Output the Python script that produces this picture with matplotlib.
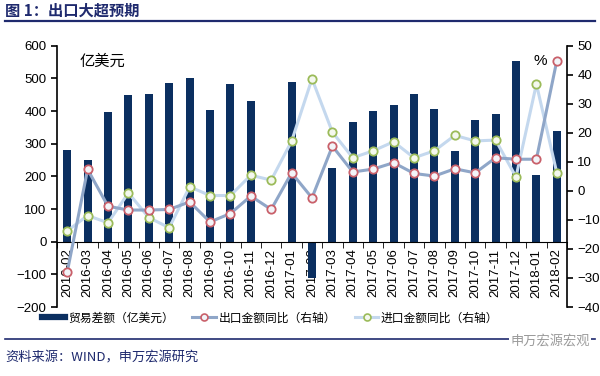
import numpy as np
import matplotlib
matplotlib.use("Agg")
import matplotlib.pyplot as plt
from matplotlib.lines import Line2D
from matplotlib.ticker import FixedLocator

plt.rcParams["font.family"] = ["Liberation Sans", "Noto Sans CJK SC", "DejaVu Sans"]

# -------------------------------------------------
# data
# -------------------------------------------------
months = [
    "2016-02", "2016-03", "2016-04", "2016-05", "2016-06", "2016-07",
    "2016-08", "2016-09", "2016-10", "2016-11", "2016-12", "2017-01",
    "2017-02", "2017-03", "2017-04", "2017-05", "2017-06", "2017-07",
    "2017-08", "2017-09", "2017-10", "2017-11", "2017-12", "2018-01",
    "2018-02",
]
balance = [281, 249, 398, 450, 453, 485, 500, 404, 482, 431, np.nan, 490,
           -112, 226, 366, 400, 417, 453, 407, 278, 373, 391, 552, 205, 340]
export_yoy = [-28.0, 7.4, -5.3, -6.6, -6.6, -6.4, -3.8, -10.7, -7.8, -1.8,
              -6.4, 6.2, -2.4, 15.4, 6.5, 7.5, 9.7, 6.0, 5.1, 7.6, 6.2,
              11.4, 10.9, 10.9, 44.8]
import_yoy = [-13.8, -8.5, -11.0, -0.7, -9.2, -12.7, 1.4, -1.6, -1.6, 5.4,
              3.7, 17.1, 38.6, 20.2, 11.4, 13.8, 16.9, 11.4, 13.8, 19.1,
              17.2, 17.5, 4.8, 36.8, 6.2]

NAVY = "#0B2F60"
EXP_LINE = "#8FA6C8"
IMP_LINE = "#C4D8EE"
TITLE_C = "#1F2A6E"

fig = plt.figure(figsize=(6.0, 3.76), dpi=100)
ax = fig.add_axes([57 / 600, 1 - 307 / 376, 510 / 600, (307 - 45.7) / 376])
ax2 = ax.twinx()

x = np.arange(len(months))

# bars
ax.bar(x, balance, width=0.4, color=NAVY, zorder=1)
ax.set_axisbelow(True)
ax.set_xlim(-0.5, len(months) - 0.5)
ax.set_ylim(-200, 600)
ax.set_yticks(range(-200, 601, 100))

# lines on right axis
ax2.plot(x, export_yoy, color=EXP_LINE, lw=2.2, marker="o", ms=6,
         mfc="#F2F4F8", mec="#C9606A", mew=1.3, zorder=3)
ax2.plot(x, import_yoy, color=IMP_LINE, lw=2.2, marker="o", ms=6,
         mfc="#F4F8EE", mec="#9BBB59", mew=1.3, zorder=2)
ax2.set_ylim(-40, 50)
ax2.set_yticks(range(-40, 51, 10))

# spines / ticks
for s in ["top", "right"]:
    ax.spines[s].set_visible(False)
ax.spines["bottom"].set_position(("data", 0))
for s in ["top", "left", "bottom"]:
    ax2.spines[s].set_visible(False)
ax.spines["left"].set_linewidth(1.2)
ax2.spines["right"].set_linewidth(1.2)

ax.set_xticks(x)
ax.set_xticklabels(months, rotation=90, fontsize=9.5)
ax.tick_params(axis="x", which="major", length=0, pad=5)
ax.xaxis.set_minor_locator(FixedLocator(np.arange(-0.5, len(months), 1.0)))
ax.tick_params(axis="x", which="minor", length=4, direction="out")
ax.tick_params(axis="y", labelsize=9.5, length=4, direction="out", width=1.2)
ax2.tick_params(axis="y", labelsize=9.5, length=4, direction="out", width=1.2)

ax.text(0.045, 0.94, "亿美元", transform=ax.transAxes, fontsize=11,
        family=["Noto Sans CJK SC"], va="center")
ax2.text(0.935, 0.94, "%", transform=ax.transAxes, fontsize=11,
         va="center")

# legend
handles = [
    Line2D([], [], color=NAVY, lw=4.5),
    Line2D([], [], color=EXP_LINE, lw=2.2, marker="o", ms=5,
           mfc="#F2F4F8", mec="#C9606A", mew=1.2),
    Line2D([], [], color=IMP_LINE, lw=2.2, marker="o", ms=5,
           mfc="#F4F8EE", mec="#9BBB59", mew=1.2),
]
labels = ["贸易差额（亿美元）", "出口金额同比（右轴）", "进口金额同比（右轴）"]
fig.legend(handles, labels, loc="center", bbox_to_anchor=(0.45, 1 - 318 / 376),
           ncol=3, frameon=False, handlelength=2.0,
           columnspacing=1.6, handletextpad=0.2,
           prop={"family": ["Noto Sans CJK SC"], "size": 8.5})

# title, rules, footer
fig.text(5 / 600, 1 - 11 / 376, "图 1：出口大超预期", fontsize=11, weight="bold",
         color=TITLE_C, family=["Noto Sans CJK SC"], va="center")
fig.add_artist(Line2D([5 / 600, 595 / 600], [1 - 21 / 376, 1 - 21 / 376],
                      color=TITLE_C, lw=1.6))
fig.add_artist(Line2D([5 / 600, 595 / 600], [1 - 339 / 376, 1 - 339 / 376],
                      color=TITLE_C, lw=1.2))
fig.text(5 / 600, 1 - 358 / 376, "资料来源：WIND，申万宏源研究", fontsize=9.5,
         color=TITLE_C, family=["Noto Sans CJK SC"], va="center")
fig.text(590 / 600, 1 - 341 / 376, "申万宏源宏观", fontsize=9.5, color="#9A9A9A",
         family=["Noto Sans CJK SC"], ha="right", va="center",
         bbox=dict(facecolor="white", edgecolor="none", pad=1))

fig.savefig("out.png", dpi=100)
